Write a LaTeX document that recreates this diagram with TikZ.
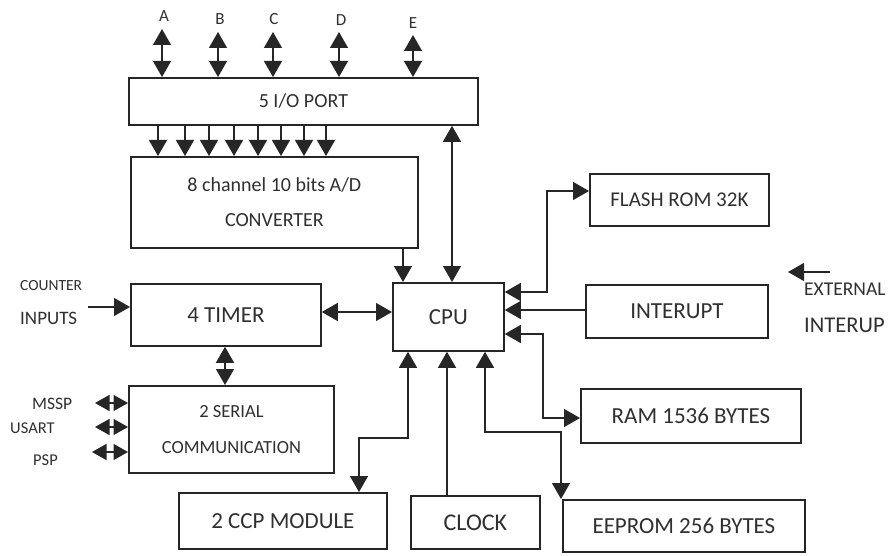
\documentclass[tikz,border=0pt]{standalone}
\usepackage{fontspec}
\setmainfont{Carlito}
\usetikzlibrary{arrows.meta}
\definecolor{ink}{HTML}{262626}
\definecolor{txt}{HTML}{303030}
\tikzset{
  box/.style={draw=ink, line width=1.8pt, inner sep=0pt, anchor=north west, text=txt, align=center},
  lbl/.style={inner sep=0pt, text=txt},
  con/.style={draw=ink, line width=1.4pt},
  onetip/.style={-{Triangle[length=16pt,width=18pt]}},
  twotip/.style={{Triangle[length=16pt,width=18pt]}-{Triangle[length=16pt,width=18pt]}},
  smalltip/.style={{Triangle[length=14.5pt,width=16pt]}-{Triangle[length=14.5pt,width=16pt]}},
  fs/.style={font=\fontsize{#1}{#1}\selectfont}
}
\begin{document}
\begin{tikzpicture}[x=1pt,y=-1pt]
\useasboundingbox[fill=white] (0,0) rectangle (889,556);

% boxes
\node[box, fs=20, minimum width=349pt, minimum height=47pt] (port) at (128,77) {5 I/O PORT};
\node[box, fs=20, minimum width=287pt, minimum height=91pt] (ad) at (130,156)
  {8 channel 10 bits A/D\\[15pt]CONVERTER};
\node[box, fs=23, minimum width=190pt, minimum height=62pt] (timer) at (130,283) {4 TIMER};
\node[box, fs=23, minimum width=111pt, minimum height=68pt] (cpu) at (392,282) {CPU};
\node[box, fs=21, minimum width=179pt, minimum height=52pt] (flash) at (589,173) {FLASH ROM 32K};
\node[box, fs=23, minimum width=182pt, minimum height=53pt] (intr) at (585,284) {INTERUPT};
\node[box, fs=18.5, minimum width=205pt, minimum height=87pt] (serial) at (128,385)
  {2 SERIAL\\[18pt]COMMUNICATION};
\node[box, fs=23, minimum width=220pt, minimum height=54pt] (ram) at (580,388) {RAM 1536 BYTES};
\node[box, fs=23, minimum width=208pt, minimum height=56pt] (ccp) at (178,492) {2 CCP MODULE};
\node[box, fs=24, minimum width=129pt, minimum height=53pt] (clock) at (410,495) {CLOCK};
\node[box, fs=23, minimum width=242pt, minimum height=52pt] (eeprom) at (562,499) {EEPROM 256 BYTES};

% labels
\node[lbl, fs=17] (lA) at (164,16) {A};
\node[lbl, fs=17] (lB) at (220,19) {B};
\node[lbl, fs=17] (lC) at (274,19) {C};
\node[lbl, fs=17] (lD) at (341,20) {D};
\node[lbl, fs=17] (lE) at (413,23) {E};
\node[lbl, fs=15.5, anchor=west] (counter) at (20,286) {COUNTER};
\node[lbl, fs=19, anchor=west] (inputs) at (20,318) {INPUTS};
\node[lbl, fs=17.5, anchor=west] (mssp) at (32,404) {MSSP};
\node[lbl, fs=16.5, anchor=west] (usart) at (10,428) {USART};
\node[lbl, fs=16.5, anchor=west] (psp) at (33,460) {PSP};
\node[lbl, fs=19.5, anchor=west] (ext) at (804,289) {EXTERNAL};
\node[lbl, fs=22.5, anchor=west] (extint) at (804,325) {INTERUP};

% port A-E
\coordinate (tA) at (162,29);
\coordinate (tB) at (218,32);
\coordinate (tC) at (273,32);
\coordinate (tD) at (339,32);
\coordinate (tE) at (413,35);
\foreach \t in {tA,tB,tC,tD,tE}
  \draw[con,twotip] (\t) -- (\t |- port.north);

% port -> A/D
\foreach \x in {158,185,209,234,258,281,304,326}
  \draw[con,onetip] (port.south -| \x,0) -- (ad.north -| \x,0);

% CPU <-> port
\draw[con,twotip] (cpu.north -| 452,0) -- (port.south -| 452,0);
% A/D -> CPU
\draw[con,onetip] (ad.south -| 403,0) -- (cpu.north -| 403,0);

% counter inputs -> timer
\coordinate (cin) at (88,307);
\draw[con,onetip] (cin) -- (timer.west |- cin);
% timer <-> cpu
\draw[con,twotip] (timer.east |- 0,312) -- (cpu.west |- 0,312);
% timer <-> serial
\draw[con,twotip] (timer.south -| 225,0) -- (serial.north -| 225,0);

% serial side arrows
\coordinate (sm) at (95,403);
\coordinate (su) at (95,427);
\coordinate (sp) at (92,452);
\foreach \c in {sm,su,sp}
  \draw[con,smalltip] (\c) -- (serial.west |- \c);

% flash
\draw[con,twotip] (cpu.east |- 0,292) -- (547,292) -- (547,191) -- (flash.west |- 0,191);
% interrupt
\draw[con,onetip] (intr.west |- 0,310) -- (cpu.east |- 0,310);
% external interrupt
\coordinate (ex1) at (830,272);
\coordinate (ex2) at (788,272);
\draw[con,onetip] (ex1) -- (ex2);
% ram
\draw[con,twotip] (cpu.east |- 0,334) -- (543,334) -- (543,418) -- (ram.west |- 0,418);
% eeprom
\draw[con,twotip] (cpu.south -| 485,0) -- (485,432) -- (561,432) -- (eeprom.north -| 561,0);
% clock
\draw[con,onetip] (clock.north -| 447,0) -- (cpu.south -| 447,0);
% ccp
\draw[con,twotip] (cpu.south -| 408,0) -- (408,438) -- (359,438) -- (ccp.north -| 359,0);
\end{tikzpicture}
\end{document}
